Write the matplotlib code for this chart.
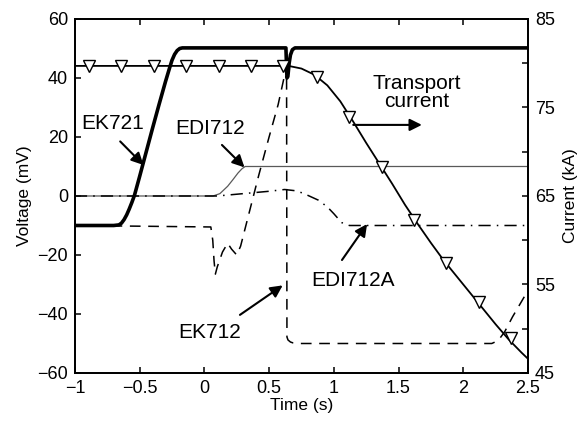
import matplotlib
matplotlib.use("Agg")
import matplotlib.pyplot as plt
from matplotlib.ticker import FixedLocator, NullFormatter

plt.rcParams['font.family'] = ['Liberation Sans', 'DejaVu Sans']

# ---- data ----
# EK721 voltage (mV)
ek721_t = [-1.0, -0.70, -0.66, -0.64, -0.62, -0.60, -0.58, -0.56, -0.54, -0.50, -0.45,
           -0.40, -0.35, -0.30, -0.27, -0.25, -0.23, -0.21, -0.19, -0.17,
           0.63, 0.638, 0.645, 0.655, 0.665, 0.68, 0.70, 2.5]
ek721_v = [-10.0, -10.0, -9.8, -9.2, -8.0, -6.4, -4.4, -2.2, 0.2, 6.6, 14.8,
           23.0, 31.0, 38.8, 43.2, 46.0, 48.0, 49.3, 50.0, 50.2,
           50.2, 40.0, 40.5, 45.0, 47.8, 49.6, 50.2, 50.2]

# EDI712 voltage (mV)
edi712_t = [-1.0, 0.067, 0.12, 0.18, 0.22, 0.26, 0.29, 0.315, 2.5]
edi712_v = [0.0, 0.0, 0.8, 3.3, 5.5, 7.8, 9.2, 10.0, 10.0]

# EDI712A voltage (mV)
edi712a_t = [-1.0, 0.1, 0.3, 0.5, 0.62, 0.70, 0.76, 0.82, 0.88, 0.95, 1.00, 1.06, 1.12, 2.5]
edi712a_v = [0.0, 0.0, 0.8, 1.6, 2.2, 1.8, 1.0, -0.2, -1.4, -3.7, -6.0, -9.0, -10.0, -10.0]

# EK712 voltage (mV)
ek712_t = [-1.0, 0.05, 0.065, 0.075, 0.085, 0.10, 0.14, 0.18, 0.21, 0.25, 0.28, 0.35,
           0.42, 0.50, 0.57, 0.62, 0.635, 0.638, 0.646, 0.665, 0.685, 0.72, 2.22,
           2.27, 2.32, 2.38, 2.44, 2.5]
ek712_v = [-10.0, -10.5, -15.0, -22.0, -26.5, -24.0, -19.0, -16.0, -18.0, -20.0, -17.0, -5.0,
           7.0, 20.0, 31.0, 41.0, 44.0, -47.8, -48.8, -49.5, -49.8, -50.0, -50.0,
           -49.0, -46.0, -41.0, -36.5, -32.0]

# Transport current (kA)
cur_t = [-1.0, 0.65, 0.75, 0.85, 0.95, 1.05, 1.15, 1.25, 1.35, 1.45, 1.55, 1.65,
         1.75, 1.85, 1.95, 2.05, 2.15, 2.25, 2.35, 2.45, 2.5]
cur_i = [79.7, 79.7, 79.4, 78.7, 77.5, 75.7, 73.4, 71.0, 68.7, 66.4, 64.0, 61.8,
         59.7, 57.7, 55.9, 54.1, 52.3, 50.5, 48.8, 47.3, 46.6]
mark_t = [-0.89, -0.64, -0.39, -0.14, 0.11, 0.36, 0.61, 0.87, 1.12, 1.37, 1.62, 1.87, 2.12, 2.37]
mark_i = [79.7, 79.7, 79.7, 79.7, 79.7, 79.7, 79.7, 78.4, 73.9, 68.3, 62.3, 57.4, 53.0, 49.0]

# ticks
xticks = [-1, -0.5, 0, 0.5, 1, 1.5, 2, 2.5]
xticklabels = ["\u22121", "\u22120.5", "0", "0.5", "1", "1.5", "2", "2.5"]
yticks = [-60, -40, -20, 0, 20, 40, 60]
yticklabels = ["\u221260", "\u221240", "\u221220", "0", "20", "40", "60"]
y2ticks = [45, 55, 65, 75, 85]
y2minor = [50, 60, 70, 80]

# ---- figure ----
fig = plt.figure(figsize=(5.85, 4.24), dpi=100)
ax = fig.add_axes([0.128, 0.1203, 0.7746, 0.8349])
ax2 = ax.twinx()

ax.set_xlim(-1, 2.5)
ax.set_ylim(-60, 60)
ax2.set_ylim(45, 85)

ax.plot(ek721_t, ek721_v, color='black', lw=2.6, solid_joinstyle='round', zorder=3)
ax.plot(edi712_t, edi712_v, color='0.35', lw=0.9, zorder=2)
l_a, = ax.plot(edi712a_t, edi712a_v, color='black', lw=1.1, zorder=2)
l_a.set_dashes([8, 4, 1, 4])
l_d, = ax.plot(ek712_t, ek712_v, color='black', lw=1.1, zorder=2)
l_d.set_dashes([7, 5])

ax2.plot(cur_t, cur_i, color='black', lw=1.3, zorder=3)
ax2.plot(mark_t, mark_i, linestyle='none', marker='v', ms=9, mfc='white',
         mec='black', mew=1.0, zorder=4)

# ticks & spines
for a in (ax, ax2):
    for s in a.spines.values():
        s.set_linewidth(1.3)
ax.set_xticks(xticks)
ax.set_xticklabels(xticklabels)
ax.set_yticks(yticks)
ax.set_yticklabels(yticklabels)
ax.tick_params(direction='in', length=4, width=1.1, labelsize=13, top=True, right=False, pad=5)
ax2.set_yticks(y2ticks)
ax2.yaxis.set_minor_locator(FixedLocator(y2minor))
ax2.yaxis.set_minor_formatter(NullFormatter())
ax2.tick_params(which='both', direction='in', length=4, width=1.1, labelsize=13, pad=5)

ax.set_xlabel("Time (s)", fontsize=12.5, labelpad=1)
ax.set_ylabel("Voltage (mV)", fontsize=12.5, labelpad=4)
ax2.set_ylabel("Current (kA)", fontsize=12.5, labelpad=6)

# annotations
fs = 15
ap = dict(arrowstyle='-|>', color='black', lw=1.5, mutation_scale=18, shrinkA=0, shrinkB=0)
ax.text(-0.706, 24.7, "EK721", fontsize=fs, ha='center', va='center', zorder=5)
ax.annotate("", xy=(-0.47, 10.5), xytext=(-0.65, 18.5), arrowprops=ap, zorder=5)
ax.text(0.043, 23.0, "EDI712", fontsize=fs, ha='center', va='center', zorder=5)
ax.annotate("", xy=(0.31, 9.7), xytext=(0.136, 17.3), arrowprops=ap, zorder=5)
ax.text(1.64, 35.0, "Transport\ncurrent", fontsize=fs, ha='center', va='center',
        linespacing=0.95, zorder=5)
ax.annotate("", xy=(1.68, 24.1), xytext=(1.15, 24.1), arrowprops=ap, zorder=5)
ax.text(1.148, -28.5, "EDI712A", fontsize=fs, ha='center', va='center', zorder=5)
ax.annotate("", xy=(1.257, -9.5), xytext=(1.063, -21.7), arrowprops=ap, zorder=5)
ax.text(0.043, -46.4, "EK712", fontsize=fs, ha='center', va='center', zorder=5)
ax.annotate("", xy=(0.605, -30.3), xytext=(0.275, -40.3), arrowprops=ap, zorder=5)

fig.savefig("out.png", dpi=100)
